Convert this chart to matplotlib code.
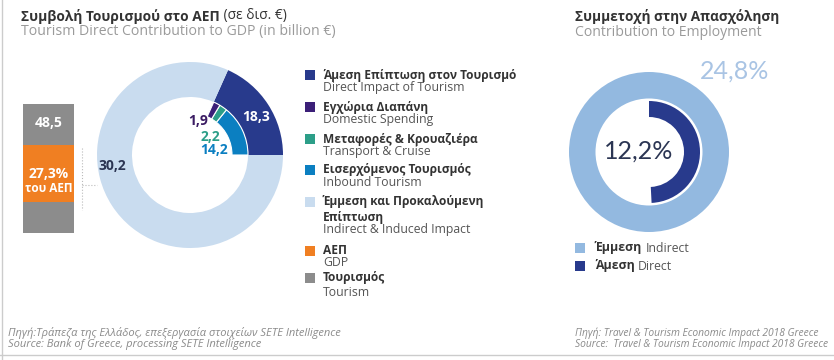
import matplotlib
matplotlib.use('Agg')
import matplotlib.pyplot as plt

plt.rcParams['font.family'] = ['Open Sans', 'DejaVu Sans']

# Δεδομένα - συμβολή στο ΑΕΠ (δισ. €)
direct_total = 18.3
indirect_total = 30.2
direct_parts = [14.2, 2.2, 1.9]          # Εισερχόμενος, Μεταφορές, Εγχώρια
tourism_total = 48.5
gdp_share = '27,3%'

# Απασχόληση (%)
emp_total = 24.8
emp_direct = 12.2

legend_gr = ['Άμεση Επίπτωση στον Τουρισμό', 'Εγχώρια Διαπάνη',
             'Μεταφορές & Κρουαζιέρα', 'Εισερχόμενος Τουρισμός',
             'Έμμεση και Προκαλούμενη\nΕπίπτωση', 'ΑΕΠ', 'Τουρισμός']
legend_en = ['Direct Impact of Tourism', 'Domestic Spending',
             'Transport & Cruise', 'Inbound Tourism',
             'Indirect & Induced Impact', 'GDP', 'Tourism']

NAVY = '#283a8c'
PURPLE = '#3b1f78'
GREEN = '#2c9e88'
CYAN = '#0b7fc1'
LIGHT = '#c9dcef'
ORANGE = '#f07f22'
GRAY = '#8c8c8c'
EMP_LIGHT = '#93b9e0'
legend_colors = [NAVY, PURPLE, GREEN, CYAN, LIGHT, ORANGE, GRAY]

W, H = 834, 360
fig = plt.figure(figsize=(W / 100, H / 100), dpi=100)
ax = fig.add_axes([0, 0, 1, 1])


def Y(y):
    # συντεταγμένες εικόνας (από πάνω) -> άξονας
    return H - y


def fmt(v, suffix=''):
    return f'{v:.1f}{suffix}'.replace('.', ',')


# ---- αριστερό ντόνατ (ο κύκλος αντιστοιχεί σε 100 μονάδες)
c1 = (190, Y(155))
ax.pie([direct_total / 100, 1 - direct_total / 100], colors=[NAVY, LIGHT],
       radius=93, center=c1, startangle=0, normalize=False, frame=True,
       wedgeprops=dict(width=35, linewidth=0))
ax.pie([p / 100 for p in direct_parts], colors=[CYAN, GREEN, PURPLE],
       radius=58, center=c1, startangle=0, normalize=False, frame=True,
       wedgeprops=dict(width=16, edgecolor='white', linewidth=0.8))

nfont = dict(fontsize=10, fontweight='bold', ha='center', va='center')
ax.text(256, Y(117), fmt(direct_total), color='white', **nfont)
ax.text(198, Y(121), fmt(direct_parts[2]), color='#3b1c63', **nfont)
ax.text(210, Y(137), fmt(direct_parts[1]), color=GREEN, **nfont)
ax.text(214, Y(150), fmt(direct_parts[0]), color=CYAN, **nfont)
ax.text(112, Y(166), fmt(indirect_total), color='#2b3553', **nfont)

# ---- μπάρα Τουρισμός / ΑΕΠ
ax.bar(48.5, 129, bottom=Y(233), width=51, color=GRAY, linewidth=0)
ax.bar(48.5, 57, bottom=Y(202), width=51, color=ORANGE, linewidth=0)
ax.text(48.5, Y(123), fmt(tourism_total), color='white', **nfont)
ax.text(48.5, Y(174), gdp_share, color='white', **nfont)
ax.text(48.5, Y(189), 'του ΑΕΠ', color='white', fontsize=8.5, fontweight='bold',
        ha='center', va='center')
ax.plot([82, 82], [Y(148), Y(210)], ls=':', color='#bbbbbb', lw=0.8)
ax.plot([82, 97], [Y(185), Y(185)], ls=':', color='#bbbbbb', lw=0.8)

# ---- υπόμνημα
rows_gr = [75, 107, 139, 170, 202, 251, 278]
rows_en = [87, 120, 151, 183, 229, 263, 292]
for gr, en, col, yg, ye in zip(legend_gr, legend_en, legend_colors, rows_gr, rows_en):
    ax.add_patch(plt.Rectangle((305, Y(yg + 5)), 10, 10, color=col, lw=0))
    for k, line in enumerate(gr.split('\n')):
        ax.text(323, Y(yg + 15 * k), line, fontsize=8.6, fontweight='bold',
                color='#333333', va='center', ha='left')
    ax.text(323, Y(ye), en, fontsize=8.8, color='#555555', va='center', ha='left')

# ---- τίτλοι
t = ax.text(21, Y(16), 'Συμβολή Τουρισμού στο ΑΕΠ', fontsize=9.9,
            fontweight='bold', color='#333333', va='center')
ax.annotate(' (σε δισ. €)', xy=(1, 0.5), xycoords=t, va='center',
            fontsize=9.9, color='#333333')
ax.text(21, Y(31), 'Tourism Direct Contribution to GDP (in billion €)',
        fontsize=10.2, color='#9a9a9a', va='center')
ax.text(575, Y(17), 'Συμμετοχή στην Απασχόληση', fontsize=9.8,
        fontweight='bold', color='#333333', va='center')
ax.text(575, Y(33), 'Contribution to Employment', fontsize=10.1,
        color='#9a9a9a', va='center')

# ---- δεξί ντόνατ
c2 = (649, Y(152))
ax.pie([1.0], colors=[EMP_LIGHT], radius=80, center=c2, startangle=90,
       normalize=False, frame=True, wedgeprops=dict(width=26.5, linewidth=0))
ax.pie([emp_direct / emp_total], colors=[NAVY], radius=51, center=c2,
       startangle=90, counterclock=False, normalize=False, frame=True,
       wedgeprops=dict(width=16, linewidth=0))
ax.text(639, Y(151), fmt(emp_direct, '%'), fontsize=18, color='#2b3553',
        family=['Lato', 'DejaVu Sans'], ha='center', va='center')
ax.text(735, Y(71), fmt(emp_total, '%'), fontsize=18, color='#a9c4e4',
        family=['Lato', 'DejaVu Sans'], ha='center', va='center')

for yy, col, gr, en in [(248, EMP_LIGHT, 'Έμμεση', 'Indirect'),
                        (266, NAVY, 'Άμεση', 'Direct')]:
    ax.add_patch(plt.Rectangle((575, Y(yy + 5)), 10, 10, color=col, lw=0))
    tt = ax.text(595, Y(yy), gr, fontsize=8.8, fontweight='bold',
                 color='#333333', va='center')
    ax.annotate(en, xy=(1, 0.5), xycoords=tt, xytext=(2.5, 0),
                textcoords='offset points', va='center', fontsize=8.8,
                color='#555555')

# ---- πηγές
ffont = dict(style='italic', color='#8a8a8a', va='center')
ax.text(8, Y(333), 'Πηγή:Τράπεζα της Ελλάδος, επεξεργασία στοιχείων SETE Intelligence',
        fontsize=8, **ffont)
ax.text(8, Y(345), 'Source: Bank of Greece, processing SETE Intelligence',
        fontsize=8, **ffont)
ax.text(575, Y(333), 'Πηγή: Travel & Tourism Economic Impact 2018 Greece',
        fontsize=7.4, **ffont)
ax.text(575, Y(345), 'Source:  Travel & Tourism Economic Impact 2018 Greece',
        fontsize=7.4, **ffont)

# περίγραμμα
ax.plot([2, 2], [0, H], color='#cccccc', lw=1)
ax.plot([0, W], [Y(355), Y(355)], color='#cccccc', lw=1)

ax.set_xlim(0, W)
ax.set_ylim(0, H)
ax.set_aspect('auto')
ax.axis('off')
fig.savefig('out.png', dpi=100)
